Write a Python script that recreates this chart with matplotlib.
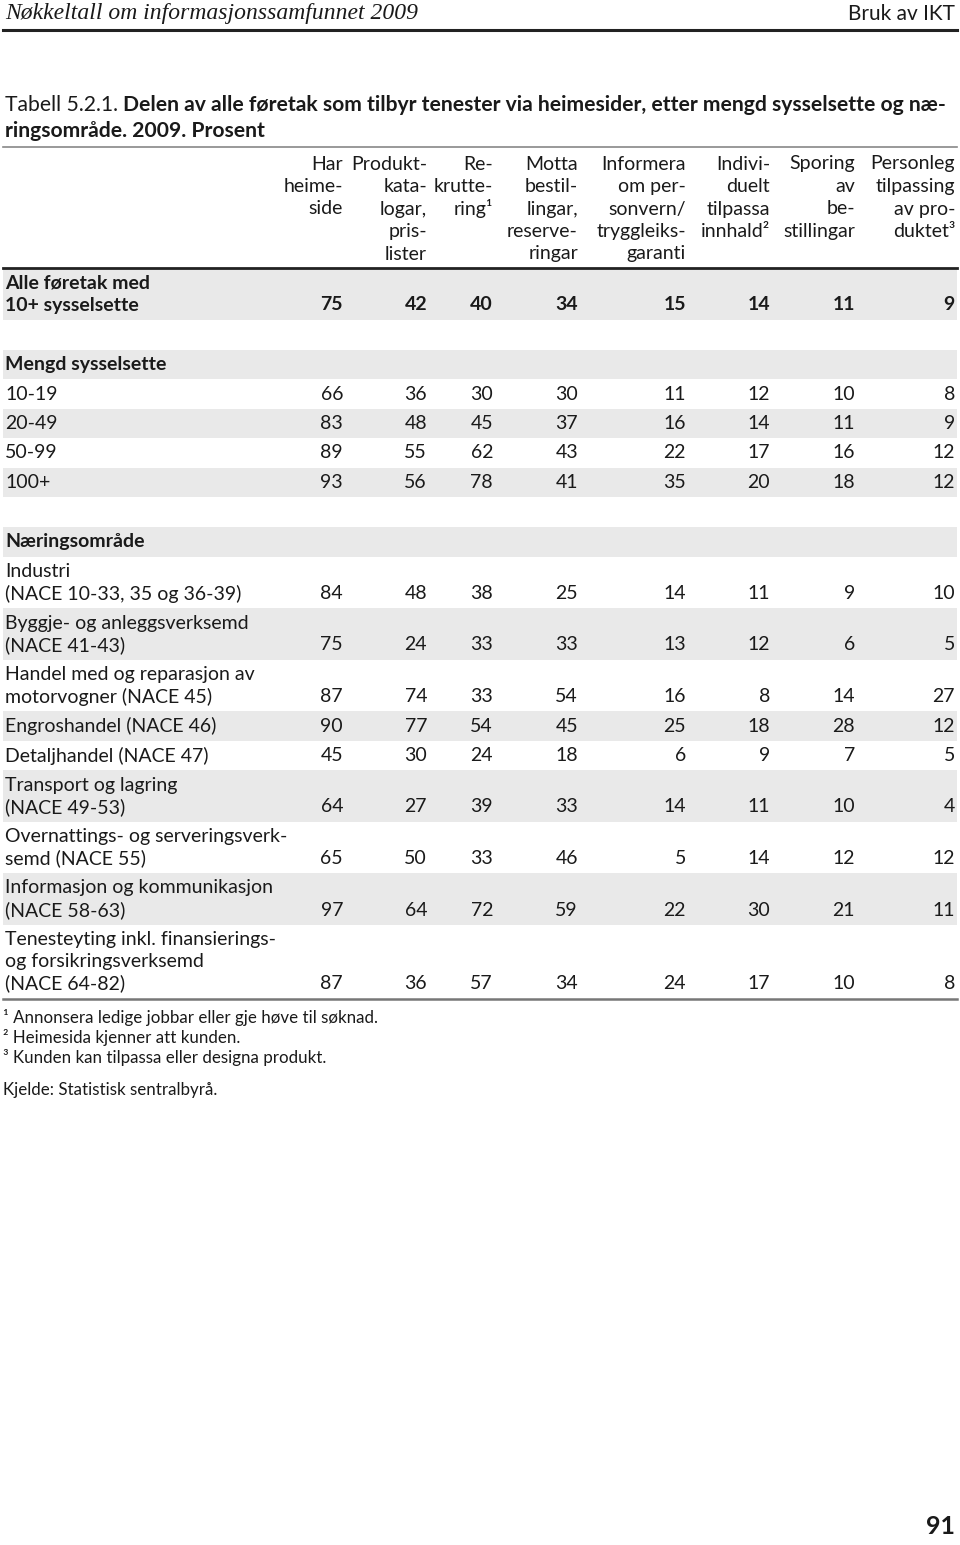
import numpy as np
import matplotlib.pyplot as plt

plt.rcParams['font.family'] = ['Lato', 'DejaVu Sans']

# column headings (right aligned, top aligned)
col_heads = ['Har\nheime-\nside',
             'Produkt-\nkata-\nlogar,\npris-\nlister',
             'Re-\nkrutte-\nring\u00b9',
             'Motta\nbestil-\nlingar,\nreserve-\nringar',
             'Informera\nom per-\nsonvern/\ntryggleiks-\ngaranti',
             'Indivi-\nduelt\ntilpassa\ninnhald\u00b2',
             'Sporing\nav\nbe-\nstillingar',
             'Personleg\ntilpassing\nav pro-\nduktet\u00b3']

total_label = 'Alle føretak med\n10+ sysselsette'
total_vals = [75, 42, 40, 34, 15, 14, 11, 9]

size_title = 'Mengd sysselsette'
size_labels = ['10-19', '20-49', '50-99', '100+']
size_vals = [[66, 36, 30, 30, 11, 12, 10, 8],
             [83, 48, 45, 37, 16, 14, 11, 9],
             [89, 55, 62, 43, 22, 17, 16, 12],
             [93, 56, 78, 41, 35, 20, 18, 12]]

ind_title = 'Næringsområde'
ind_labels = ['Industri\n(NACE 10-33, 35 og 36-39)',
              'Byggje- og anleggsverksemd\n(NACE 41-43)',
              'Handel med og reparasjon av\nmotorvogner (NACE 45)',
              'Engroshandel (NACE 46)',
              'Detaljhandel (NACE 47)',
              'Transport og lagring\n(NACE 49-53)',
              'Overnattings- og serveringsverk-\nsemd (NACE 55)',
              'Informasjon og kommunikasjon\n(NACE 58-63)',
              'Tenesteyting inkl. finansierings-\nog forsikringsverksemd\n(NACE 64-82)']
ind_vals = [[84, 48, 38, 25, 14, 11, 9, 10],
            [75, 24, 33, 33, 13, 12, 6, 5],
            [87, 74, 33, 54, 16, 8, 14, 27],
            [90, 77, 54, 45, 25, 18, 28, 12],
            [45, 30, 24, 18, 6, 9, 7, 5],
            [64, 27, 39, 33, 14, 11, 10, 4],
            [65, 50, 33, 46, 5, 14, 12, 12],
            [97, 64, 72, 59, 22, 30, 21, 11],
            [87, 36, 57, 34, 24, 17, 10, 8]]

footnotes = ['\u00b9 Annonsera ledige jobbar eller gje høve til søknad.',
             '\u00b2 Heimesida kjenner att kunden.',
             '\u00b3 Kunden kan tilpassa eller designa produkt.']
source = 'Kjelde: Statistisk sentralbyrå.'

# layout (pixels)
W, H = 960, 1545
col_x = [343, 427, 493, 578, 686, 770, 855, 955]
x0, x1 = 3, 957
fs = 14
line_h = 22.0
shade = '#e9e9e9'
txt = '#1a1a1a'

fig = plt.figure(figsize=(W / 100, H / 100), dpi=100)
ax = fig.add_axes([0, 0, 1, 1])
ax.set_xlim(0, W)
ax.set_ylim(H, 0)
ax.axis('off')

# page header
ax.text(5, 14, 'Nøkkeltall om informasjonssamfunnet 2009', family='Liberation Serif',
        style='italic', fontsize=17, va='center', color=txt)
ax.text(955, 14, 'Bruk av IKT', fontsize=15, ha='right', va='center', color=txt)
ax.plot([3, 957], [30, 30], color='#222222', lw=2.2)

# title
t1 = ax.text(5, 105, 'Tabell 5.2.1. ', fontsize=15.2, va='center', color=txt)
ax.annotate('Delen av alle føretak som tilbyr tenester via heimesider, etter mengd sysselsette og næ-',
            xy=(1, 0), xycoords=t1, va='bottom', ha='left', fontsize=15.2, weight='bold', color=txt)
ax.text(5, 131, 'ringsområde. 2009. Prosent', fontsize=15.2, va='center', weight='bold', color=txt)
ax.plot([x0, x1], [147, 147], color='#888888', lw=1.2)

# column heads
for x, h in zip(col_x, col_heads):
    for k, part in enumerate(h.split('\n')):
        ax.text(x, 164 + k * 22.5, part, fontsize=fs, ha='right', va='center', color=txt)
ax.plot([x0, x1], [268, 268], color='#222222', lw=2)


def draw_row(top, label, vals, shaded, bold=False):
    lines = label.split('\n')
    hgt = 7.5 + line_h * len(lines)
    if shaded:
        ax.fill_between([x0, x1], top, top + hgt, color=shade, lw=0)
    wt = 'bold' if bold else 'normal'
    for k, part in enumerate(lines):
        ax.text(5, top + 15 + k * line_h, part, fontsize=fs, va='center', weight=wt, color=txt)
    if vals is not None:
        yv = top + 15 + (len(lines) - 1) * line_h
        for x, v in zip(col_x, vals):
            ax.text(x, yv, str(v), fontsize=fs, ha='right', va='center', weight=wt, color=txt)
    return top + hgt


y = 268
y = draw_row(y, total_label, total_vals, True, bold=True)
y += 30
y = draw_row(y, size_title, None, True, bold=True)
for i, (lab, vals) in enumerate(zip(size_labels, size_vals)):
    y = draw_row(y, lab, vals, i % 2 == 1)
y += 30
y = draw_row(y, ind_title, None, True, bold=True)
for i, (lab, vals) in enumerate(zip(ind_labels, ind_vals)):
    y = draw_row(y, lab, vals, i % 2 == 1)
ax.plot([x0, x1], [y + 1, y + 1], color='#777777', lw=1.8)

# footnotes
fy = y + 19
for note in footnotes:
    ax.text(3, fy, note, fontsize=12.2, va='center', color=txt)
    fy += 20.5
ax.text(3, fy + 12, source, fontsize=12.2, va='center', color=txt)

ax.text(955, 1527, '91', fontsize=18, weight='bold', ha='right', va='center', color=txt)

fig.savefig('out.png', dpi=100)
